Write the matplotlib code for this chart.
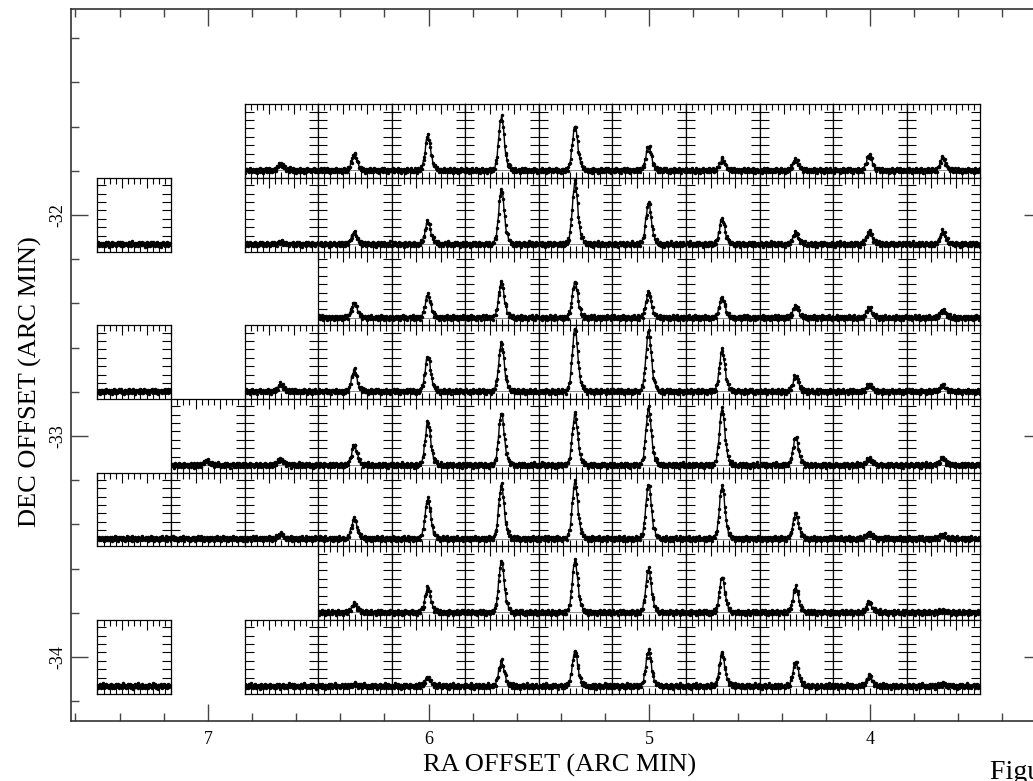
import numpy as np
import matplotlib
matplotlib.use("Agg")
import matplotlib.pyplot as plt
from matplotlib.ticker import MultipleLocator

plt.rcParams["font.family"] = ["Liberation Serif", "DejaVu Serif"]
plt.rcParams["axes.unicode_minus"] = False

# map grid: panel centres (arcmin offsets)
RA_COLS = [7.3333, 7.0, 6.6667, 6.3333, 6.0, 5.6667, 5.3333, 5.0,
           4.6667, 4.3333, 4.0, 3.6667]
DEC_ROWS = [-31.6667, -32.0, -32.3333, -32.6667, -33.0, -33.3333,
            -33.6667, -34.0]
CELL = 0.3333

# peak line strength per position (None = not observed)
PEAKS = [
    [None, None, 0.8, 1.9, 4.1, 6.4, 5.3, 2.9, 1.3, 1.3, 1.8, 1.5],
    [0.0, None, 0.2, 1.3, 2.7, 6.5, 7.3, 4.9, 3.0, 1.3, 1.5, 1.5],
    [None, None, None, 1.8, 2.7, 4.2, 4.3, 3.0, 2.4, 1.4, 1.2, 0.9],
    [0.0, None, 0.8, 2.5, 4.2, 5.7, 7.5, 7.1, 4.9, 1.8, 0.8, 0.7],
    [None, 0.5, 0.7, 2.4, 5.1, 6.2, 6.0, 6.7, 6.7, 3.3, 0.8, 0.8],
    [0.0, 0.0, 0.5, 2.4, 4.8, 6.4, 6.8, 6.5, 6.3, 3.0, 0.7, 0.5],
    [None, None, None, 1.0, 3.0, 6.1, 6.2, 5.2, 4.2, 3.0, 1.2, 0.2],
    [0.0, None, 0.0, 0.2, 1.0, 2.9, 4.1, 4.2, 3.9, 2.9, 1.2, 0.2],
]

# normalised line shape, placed from channel LINE_START on
LINE_START = 34
LINE_SHAPE = [0.00, 0.01, 0.02, 0.04, 0.07, 0.11, 0.18, 0.28, 0.42, 0.58,
              0.75, 0.89, 0.98, 1.00, 0.93, 0.80, 0.64, 0.48, 0.35, 0.25,
              0.18, 0.13, 0.10, 0.07, 0.05, 0.03, 0.02, 0.01]

# baseline ripple (hundredths of a tick step)
NOISE = [
    [3, -5, 8, -2, -9, 4, 10, -3, -6, 2, 7, -8,
     1, 5, -4, -10, 6, 3, -2, 9, -7, 0, 4, -5,
     11, -3, -8, 2, 6, -1, -6, 8, 3, -9, 5, -2,
     7, -4, -7, 1, 9, -5, 2, -3, 6, -8, 4, 10,
     -6, -1, 3, -10, 5, 8, -3, -5, 2, 7, -9, 0,
     4, -6, 9, -2, -4, 6, 1, -8, 3, 11, -5, -7,
     4, 2, -3, 8, -6, 5, -1, -9, 7, 3, -4, 6,
     -2, -11, 5, 9, -7, 1, -3, 4, 8, -5, 2, -6],
    [-4, 6, -1, -8, 5, 2, -6, 9, 0, -3, 7, -10,
     5, -2, 3, 8, -7, -4, 6, 1, -9, 4, -1, 10,
     -5, 2, 7, -6, -3, 9, -8, 3, 1, -4, 6, -2,
     -9, 5, 8, -1, -6, 3, 11, -5, -2, 4, -7, 1,
     6, -3, -8, 7, 2, -5, 9, -4, 0, 5, -10, 3,
     -1, 8, -6, 2, 4, -9, 7, -2, -5, 10, 1, -7,
     3, -4, 9, -8, 5, 0, -3, 6, -11, 2, 8, -5,
     4, -6, 1, 7, -2, -9, 5, 3, -4, 8, -7, 2],
    [7, -2, -9, 4, 1, -6, 8, -3, 5, -10, 2, 6,
     -4, 9, -1, -7, 3, 10, -5, 0, 6, -8, 4, -3,
     -6, 5, 2, -9, 8, -1, -4, 7, -2, 3, -11, 6,
     1, -5, 9, -3, -7, 4, 6, -8, 2, 11, -4, -1,
     8, -6, 3, 5, -9, 0, 7, -2, -5, 4, 9, -7,
     -3, 2, 6, -10, 4, 1, -6, 8, -1, -4, 7, 3,
     -8, 5, 0, -2, 10, -7, 3, 6, -5, 1, -9, 4,
     2, 7, -4, -6, 5, 9, -3, -8, 1, 6, -2, -5],
    [-6, 2, 9, -4, -1, 7, -8, 3, 5, -2, -9, 4,
     10, -5, 1, 6, -7, -3, 8, 0, -4, 9, -6, 2,
     3, -10, 5, 7, -2, -5, 4, 11, -8, 1, 6, -3,
     -7, 8, 2, -4, -9, 5, 0, 6, -1, -6, 9, 3,
     -5, 4, -8, 10, 1, -3, 7, -6, 2, 5, -11, 6,
     0, -4, 9, -7, 3, 8, -2, -5, 4, -9, 7, 1,
     -3, 6, -1, -8, 5, 2, 9, -6, -4, 3, 10, -7,
     1, -2, 8, -5, -3, 6, -9, 4, 7, -1, -6, 5],
]

N_CHAN = 96
chan = np.arange(N_CHAN) + 0.5
shape = np.zeros(N_CHAN)
shape[LINE_START:LINE_START + len(LINE_SHAPE)] = LINE_SHAPE

fig = plt.figure(figsize=(10.33, 7.81), dpi=100)
ax = fig.add_axes([71 / 1033, 60 / 781, 970 / 1033, 712 / 781])
ax.set_xlim(7.62, 3.225)
ax.set_ylim(-34.29, -31.068)
ax.xaxis.set_major_locator(MultipleLocator(1))
ax.xaxis.set_minor_locator(MultipleLocator(0.2))
ax.yaxis.set_major_locator(MultipleLocator(1))
ax.yaxis.set_minor_locator(MultipleLocator(0.2))
ax.tick_params(which="both", direction="in", top=True, right=True,
               color="#444444", width=1.0)
ax.tick_params(which="major", length=12)
ax.tick_params(which="minor", length=6)
ax.tick_params(axis="x", labelsize=13, pad=7)
ax.tick_params(axis="y", labelsize=13, pad=3, labelrotation=90)
plt.setp(ax.get_yticklabels(), va="center")
for s in ax.spines.values():
    s.set_color("#333333")
    s.set_linewidth(1.2)

# axis titles placed by hand
fig.text(559.5 / 1033, 9 / 781, "RA OFFSET (ARC MIN)", fontsize=19,
         ha="center", va="baseline")
fig.text(37 / 1033, 1 - 382 / 781, "DEC OFFSET (ARC MIN)", fontsize=19,
         rotation=90, rotation_mode="anchor", ha="center", va="baseline")

to_fig = fig.transFigure.inverted()
half = CELL / 2
for r, dec in enumerate(DEC_ROWS):
    for c, ra in enumerate(RA_COLS):
        amp = PEAKS[r][c]
        if amp is None:
            continue
        p0 = to_fig.transform(ax.transData.transform((ra + half, dec - half)))
        p1 = to_fig.transform(ax.transData.transform((ra - half, dec + half)))
        sub = fig.add_axes([p0[0], p0[1], p1[0] - p0[0], p1[1] - p0[1]])
        noise = np.roll(np.array(NOISE[(r + c) % 4]) * 0.03, 7 * c + 3 * r)
        spec = amp * shape + noise
        sub.axhline(0, color="#777777", lw=0.6, zorder=1)
        sub.plot(chan, spec, color="black", lw=1.0, marker=".", ms=3,
                 zorder=2)
        sub.set_xlim(0, N_CHAN)
        sub.set_ylim(-0.92, 7.85)
        sub.xaxis.set_major_locator(MultipleLocator(32))
        sub.xaxis.set_minor_locator(MultipleLocator(8))
        sub.set_yticks(range(1, 8))
        sub.tick_params(which="both", direction="in", top=True, right=True,
                        labelbottom=False, labelleft=False, width=0.8,
                        color="black")
        sub.tick_params(axis="x", which="major", length=7)
        sub.tick_params(axis="x", which="minor", length=4)
        sub.tick_params(axis="y", which="major", length=6.5)
        for s in sub.spines.values():
            s.set_linewidth(0.9)

fig.text(990 / 1033, 2 / 781, "Figure 3", fontsize=20, va="baseline")

fig.savefig("out.png", dpi=100)
